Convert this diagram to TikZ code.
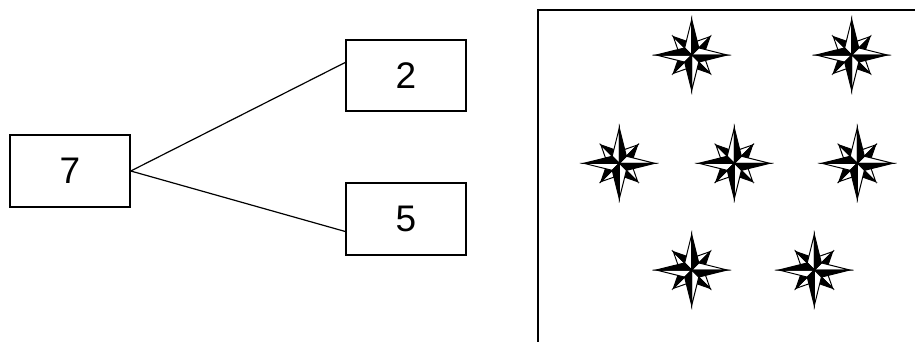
\documentclass[tikz,border=0pt]{standalone}
\usepackage{fontspec}
\setmainfont{Liberation Sans}
\usetikzlibrary{calc}

\tikzset{
  numbox/.style={draw, line width=1.5pt, minimum width=120pt, minimum height=72pt,
    inner sep=0pt, font=\fontsize{37}{44}\selectfont},
  rose/.pic={
    % diagonal points first
    \foreach \a in {45,135,225,315}{
      \filldraw[fill=white, line width=1pt, line join=miter] (0,0) -- (\a+28:14) -- (\a:26) -- cycle;
      \filldraw[fill=black, line width=1pt, line join=miter] (0,0) -- (\a-28:14) -- (\a:26) -- cycle;
    }
    % main points
    \foreach \a in {0,90,180,270}{
      \filldraw[fill=white, line width=1pt, line join=miter] (0,0) -- (\a+45:10) -- (\a:35.5) -- cycle;
      \filldraw[fill=black, line width=1pt, line join=miter] (0,0) -- (\a-45:10) -- (\a:35.5) -- cycle;
    }
  }
}

\begin{document}
\begin{tikzpicture}[x=1pt, y=1pt]
  \useasboundingbox (0,0) rectangle (915,341);
  \clip (0,0) rectangle (915,341);

  \node[numbox] (b7) at (70,170) {7};
  \node[numbox, minimum height=71pt] (b2) at (406,265.5) {2};
  \node[numbox] (b5) at (406,122) {5};

  \draw[line width=1.2pt] (b7.east) -- ($(b2.north west)!0.32!(b2.south west)$);
  \draw[line width=1.2pt] (b7.east) -- ($(b5.north west)!0.67!(b5.south west)$);

  % frame with the stars
  \draw[line width=2pt] (537.5,-5) |- (930,331);
  \foreach \p in {(691.7,286), (851.7,286), (619.3,177.7), (734.3,177.7),
                  (857.3,177.7), (691.7,71), (814.3,71)}
    \pic at \p {rose};
\end{tikzpicture}
\end{document}
